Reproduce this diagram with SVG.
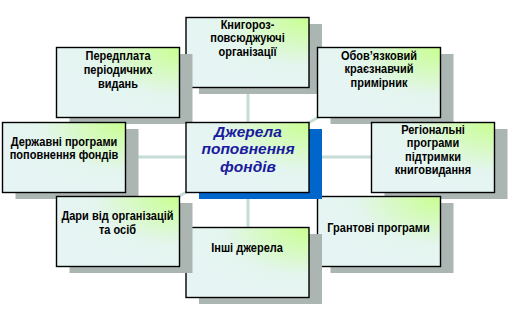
<svg xmlns="http://www.w3.org/2000/svg" width="510" height="315" viewBox="0 0 510 315">
<defs>
<radialGradient id="g" cx="1" cy="0" r="1" fx="1" fy="0">
<stop offset="0" stop-color="#c8ff90"/>
<stop offset="0.7" stop-color="#e4f5ef"/>
<stop offset="1" stop-color="#e6f5f3"/>
</radialGradient>
</defs>
<style>
.sh{fill:#abb6b3}
.bsh{fill:#0066cc}
.box{fill:url(#g);stroke:#000;stroke-width:1.4}
.t{font-family:"Liberation Sans",Arial,sans-serif;font-weight:bold;font-size:12.5px;fill:#000;text-anchor:middle;transform-box:fill-box;transform-origin:center;transform:scaleX(0.88)}
.c{font-family:"Liberation Sans",Arial,sans-serif;font-weight:bold;font-style:italic;font-size:15.5px;fill:#1a1a9e;text-anchor:middle}
.ln{stroke:#c6dcd7;stroke-width:3;fill:none}
</style>
<rect width="510" height="315" fill="#fff"/>
<g id="connectors">
<line class="ln" x1="248" y1="52" x2="248" y2="262"/>
<line class="ln" x1="64" y1="157" x2="433" y2="157"/>
<line class="ln" x1="248" y1="157" x2="118" y2="83"/>
<line class="ln" x1="248" y1="157" x2="379" y2="83"/>
<line class="ln" x1="248" y1="157" x2="118" y2="231"/>
<line class="ln" x1="248" y1="157" x2="379" y2="231"/>
</g>
<g id="n-knyhoroz">
<rect class="sh" x="199" y="24" width="123" height="70"/>
<rect class="box" x="186" y="17.5" width="123" height="70"/>
<text class="t" x="247.5" y="29">Книгороз-</text>
<text class="t" x="247.5" y="42.5">повсюджуючі</text>
<text class="t" x="247.5" y="56">організації</text>
</g>
<g id="n-obov">
<rect class="sh" x="330.5" y="54" width="123" height="70"/>
<rect class="box" x="317.5" y="47.5" width="123" height="70"/>
<text class="t" x="379" y="60">Обов’язковий</text>
<text class="t" x="379" y="73.5">краєзнавчий</text>
<text class="t" x="379" y="87">примірник</text>
</g>
<g id="n-rehion">
<rect class="sh" x="384.5" y="129" width="123" height="70"/>
<rect class="box" x="371.5" y="122.5" width="123" height="70"/>
<text class="t" x="433" y="134">Регіональні</text>
<text class="t" x="433" y="147.5">програми</text>
<text class="t" x="433" y="161">підтримки</text>
<text class="t" x="433" y="174.5">книговидання</text>
</g>
<g id="n-hrant">
<rect class="sh" x="330.5" y="203" width="123" height="70"/>
<rect class="box" x="317.5" y="196.5" width="123" height="70"/>
<text class="t" x="378.5" y="232.5">Грантові програми</text>
</g>
<g id="n-peredplata">
<rect class="sh" x="69.5" y="54" width="123" height="70"/>
<rect class="box" x="56.5" y="47.5" width="123" height="70"/>
<text class="t" x="118" y="60">Передплата</text>
<text class="t" x="118" y="74">періодичних</text>
<text class="t" x="118" y="88">видань</text>
</g>
<g id="n-center">
<rect class="bsh" x="199" y="129" width="123" height="70"/>
<rect class="box" x="186" y="122.5" width="123" height="70"/>
<text class="c" x="248" y="136.5">Джерела</text>
<text class="c" x="248" y="154">поповнення</text>
<text class="c" x="248" y="171.5">фондів</text>
</g>
<g id="n-derzh">
<rect class="sh" x="15.5" y="129" width="123" height="70"/>
<rect class="box" x="2.5" y="122.5" width="123" height="70"/>
<text class="t" x="64" y="145.7">Державні програми</text>
<text class="t" x="64" y="159.5">поповнення фондів</text>
</g>
<g id="n-inshi">
<rect class="sh" x="199" y="234" width="123" height="70"/>
<rect class="box" x="186" y="227.5" width="123" height="70"/>
<text class="t" x="247" y="252.3">Інші джерела</text>
</g>
<g id="n-dary">
<rect class="sh" x="69.5" y="203" width="123" height="70"/>
<rect class="box" x="56.5" y="196.5" width="123" height="70"/>
<text class="t" x="117.5" y="220.5">Дари від організацій</text>
<text class="t" x="117.5" y="234">та осіб</text>
</g>
</svg>
